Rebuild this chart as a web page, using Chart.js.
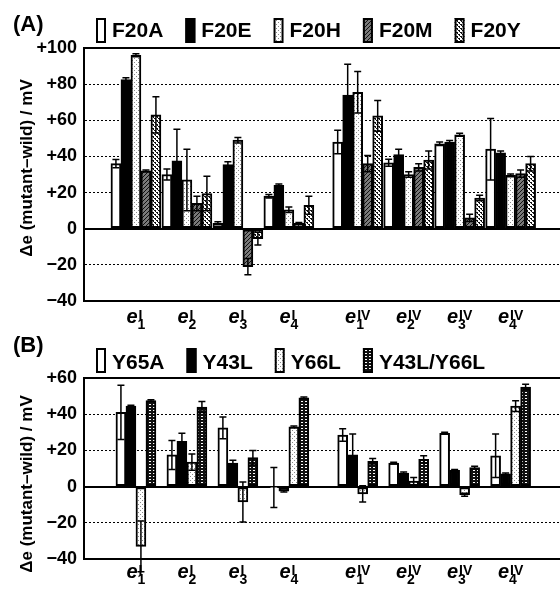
<!DOCTYPE html>
<html>
<head>
<meta charset="utf-8">
<script src="https://cdn.jsdelivr.net/npm/chart.js@4.4.0/dist/chart.umd.min.js"></script>
<style>
    body { margin: 0; background: #fff; }
    canvas { display: block; }
</style>
</head>
<body>
<canvas id="chartA" width="560" height="334"></canvas>
<canvas id="chartB" width="560" height="255"></canvas>
<script>
// sites: e with subscript + superscript
const siteSub = ['1', '2', '3', '4', '1', '2', '3', '4'];
const siteSup = ['I', 'I', 'I', 'I', 'IV', 'IV', 'IV', 'IV'];

const ticksA = [-40, -20, 0, 20, 40, 60, 80, 100];
const ticksB = [-40, -20, 0, 20, 40, 60];

// panel A (mV)
const f20A = [36, 30, 3, 18, 48, 36.5, 47, 44];
const f20AErr = [2.3, 3, 0.8, 1, 6.5, 2, 1, 17];
const f20E = [82.5, 37.5, 35.5, 24, 74, 41, 48, 42];
const f20EErr = [1, 17.5, 1.5, 0.8, 17, 3, 0.8, 1];
const f20H = [96, 27, 49, 10.5, 75.5, 30, 52, 29.5];
const f20HErr = [0.8, 17, 1.5, 1.5, 11.5, 1.5, 0.8, 0.8];
const f20M = [32, 14, -21, 3, 36, 34, 6, 30.5];
const f20MErr = [0.5, 4, 4.5, 0.5, 4.5, 2, 2, 2];
const f20Y = [63, 19.5, -5.5, 13, 62.5, 38, 17, 36];
const f20YErr = [10, 9.5, 3.5, 5, 8.5, 5, 1.5, 4];

// panel B (mV)
const y65A = [41, 17.5, 32.5, -0.5, 28.5, 13, 29.5, 17];
const y65AErr = [15, 8, 6, 11, 3.5, 0.5, 0.5, 12];
const y43L = [44.5, 25, 13, -2.5, 17.5, 7.5, 9, 7];
const y43LErr = [0.5, 4.5, 1.5, 0.5, 11.5, 0.5, 0.5, 0.5];
const y66L = [-33, 13.5, -8.5, 33, -4, 3, -4.5, 44.5];
const y66LErr = [14, 4.5, 11, 0.5, 4.5, 2, 0.8, 3];
const y43LY66L = [47.5, 44, 16, 49, 14, 15, 10.5, 55];
const y43LY66LErr = [0.5, 3, 4, 0.5, 1.5, 2, 0.8, 1.5];

const FONT = '"Liberation Sans", Arial, sans-serif';
const GROUP_GAP = 0.35; // extra space between the I and IV sites
const xAt = i => i + (i >= 4 ? GROUP_GAP : 0);

function makePattern(w, h, draw) {
    const c = document.createElement('canvas');
    c.width = w; c.height = h;
    const g = c.getContext('2d');
    draw(g);
    return g.createPattern(c, 'repeat');
}

const lightDots = makePattern(4, 4, g => {
    g.fillStyle = '#fff'; g.fillRect(0, 0, 4, 4);
    g.fillStyle = '#8a8a8a';
    g.fillRect(0, 0, 1, 1); g.fillRect(2, 2, 1, 1);
});
const hatch = makePattern(4, 4, g => {
    g.fillStyle = '#7a7a7a'; g.fillRect(0, 0, 4, 4);
    g.fillStyle = '#111';
    for (let i = 0; i < 4; i++) g.fillRect(i, 3 - i, 1, 1);
});
const checkDots = makePattern(4, 4, g => {
    g.fillStyle = '#fff'; g.fillRect(0, 0, 4, 4);
    g.fillStyle = '#111';
    g.fillRect(0, 0, 2, 1); g.fillRect(2, 2, 2, 1);
    g.fillRect(1, 1, 1, 1); g.fillRect(3, 3, 1, 1);
});
const brick = makePattern(4, 3, g => {
    g.fillStyle = '#111'; g.fillRect(0, 0, 4, 3);
    g.fillStyle = '#fff';
    g.fillRect(1, 1, 2, 1);
});

function series(label, values, errors, fill) {
    return {
        label: label,
        data: values.map((v, i) => ({ x: xAt(i), y: v })),
        errors: errors,
        backgroundColor: fill,
        borderColor: '#000',
        borderWidth: 2,
        borderSkipped: false,
        barThickness: 10
    };
}

const errorBars = {
    id: 'errorBars',
    afterDatasetsDraw(chart) {
        const ctx = chart.ctx;
        const ys = chart.scales.y;
        ctx.save();
        ctx.strokeStyle = '#000';
        ctx.lineWidth = 1.5;
        chart.data.datasets.forEach((ds, di) => {
            chart.getDatasetMeta(di).data.forEach((bar, i) => {
                const v = ds.data[i].y;
                const e = ds.errors[i];
                const top = ys.getPixelForValue(v + e);
                const bot = ys.getPixelForValue(v - e);
                ctx.beginPath();
                ctx.moveTo(bar.x, top); ctx.lineTo(bar.x, bot);
                ctx.moveTo(bar.x - 3.5, top); ctx.lineTo(bar.x + 3.5, top);
                ctx.moveTo(bar.x - 3.5, bot); ctx.lineTo(bar.x + 3.5, bot);
                ctx.stroke();
            });
        });
        ctx.restore();
    }
};

function decor(p) {
    return {
        id: 'decor',
        afterDraw(chart) {
            const ctx = chart.ctx;
            const xs = chart.scales.x;
            ctx.save();
            ctx.fillStyle = '#000';
            ctx.textAlign = 'left';
            ctx.textBaseline = 'alphabetic';

            // panel letter
            ctx.font = 'bold 22px ' + FONT;
            ctx.fillText(p.letter, 13, p.letterY);

            // legend
            let x = 96;
            ctx.font = 'bold 21px ' + FONT;
            chart.data.datasets.forEach(ds => {
                ctx.fillStyle = ds.backgroundColor;
                ctx.fillRect(x, p.boxTop, 10, p.boxH);
                ctx.strokeStyle = '#000';
                ctx.lineWidth = 2;
                ctx.strokeRect(x + 1, p.boxTop + 1, 8, p.boxH - 2);
                ctx.fillStyle = '#000';
                ctx.fillText(ds.label, x + 16, p.legendBase);
                x += 16 + ctx.measureText(ds.label).width + 22;
            });

            // y title
            ctx.save();
            ctx.translate(27, p.titleY);
            ctx.rotate(-Math.PI / 2);
            ctx.textAlign = 'center';
            ctx.textBaseline = 'middle';
            ctx.font = 'bold 17px ' + FONT;
            ctx.fillText('Δe (mutant–wild) / mV', 0, 0);
            ctx.restore();

            // site labels
            siteSub.forEach((sub, i) => {
                const cx = xs.getPixelForValue(xAt(i));
                ctx.font = 'italic bold 20px ' + FONT;
                const eW = ctx.measureText('e').width;
                ctx.font = 'bold 14px ' + FONT;
                const subW = ctx.measureText(sub).width;
                const supW = ctx.measureText(siteSup[i]).width;
                const start = cx - (eW + Math.max(subW, supW + 1)) / 2;
                ctx.font = 'italic bold 20px ' + FONT;
                ctx.fillText('e', start, p.labelBase);
                ctx.font = 'bold 14px ' + FONT;
                ctx.fillText(sub, start + eW, p.labelBase + 6);
                ctx.fillText(siteSup[i], start + eW + 1, p.labelBase - 3);
            });
            ctx.restore();
        }
    };
}

function makeChart(id, datasets, ticks, padTop, padBottom, p) {
    const lo = ticks[0];
    const hi = ticks[ticks.length - 1];
    const solid = c => c.tick && (c.tick.value === 0 || c.tick.value === lo || c.tick.value === hi);
    return new Chart(document.getElementById(id), {
        type: 'bar',
        data: { datasets: datasets },
        options: {
            responsive: false,
            animation: false,
            events: [],
            layout: { padding: { top: padTop, bottom: padBottom, left: 0, right: 0 } },
            plugins: {
                legend: { display: false },
                tooltip: { enabled: false }
            },
            scales: {
                x: {
                    type: 'linear',
                    min: -0.5,
                    max: 7.8,
                    afterFit: s => { s.height = 0; },
                    ticks: { display: false },
                    grid: { display: false },
                    border: { display: true, width: 2, color: '#000' }
                },
                y: {
                    min: lo,
                    max: hi,
                    afterFit: s => { s.width = 84; },
                    afterBuildTicks: s => { s.ticks = ticks.map(v => ({ value: v })); },
                    ticks: {
                        padding: 7,
                        color: '#000',
                        font: { family: FONT, size: 18, weight: 'bold' },
                        callback: v => v > 0 ? '+' + v : (v < 0 ? '−' + (-v) : '0')
                    },
                    grid: {
                        drawTicks: false,
                        color: '#000',
                        lineWidth: c => solid(c) ? 2 : 1
                    },
                    border: {
                        display: true,
                        width: 2,
                        color: '#000',
                        dash: c => solid(c) || !c.tick ? [] : [2, 2]
                    }
                }
            }
        },
        plugins: [errorBars, decor(p)]
    });
}

makeChart('chartA', [
    series('F20A', f20A, f20AErr, '#fff'),
    series('F20E', f20E, f20EErr, '#000'),
    series('F20H', f20H, f20HErr, lightDots),
    series('F20M', f20M, f20MErr, hatch),
    series('F20Y', f20Y, f20YErr, checkDots)
], ticksA, 48, 33, {
    letter: '(A)', letterY: 31, boxTop: 18, boxH: 25, legendBase: 37, titleY: 168, labelBase: 323
});

makeChart('chartB', [
    series('Y65A', y65A, y65AErr, '#fff'),
    series('Y43L', y43L, y43LErr, '#000'),
    series('Y66L', y66L, y66LErr, lightDots),
    series('Y43L/Y66L', y43LY66L, y43LY66LErr, brick)
], ticksB, 44, 30, {
    letter: '(B)', letterY: 18, boxTop: 14, boxH: 25, legendBase: 35, titleY: 150, labelBase: 244
});
</script>
</body>
</html>
